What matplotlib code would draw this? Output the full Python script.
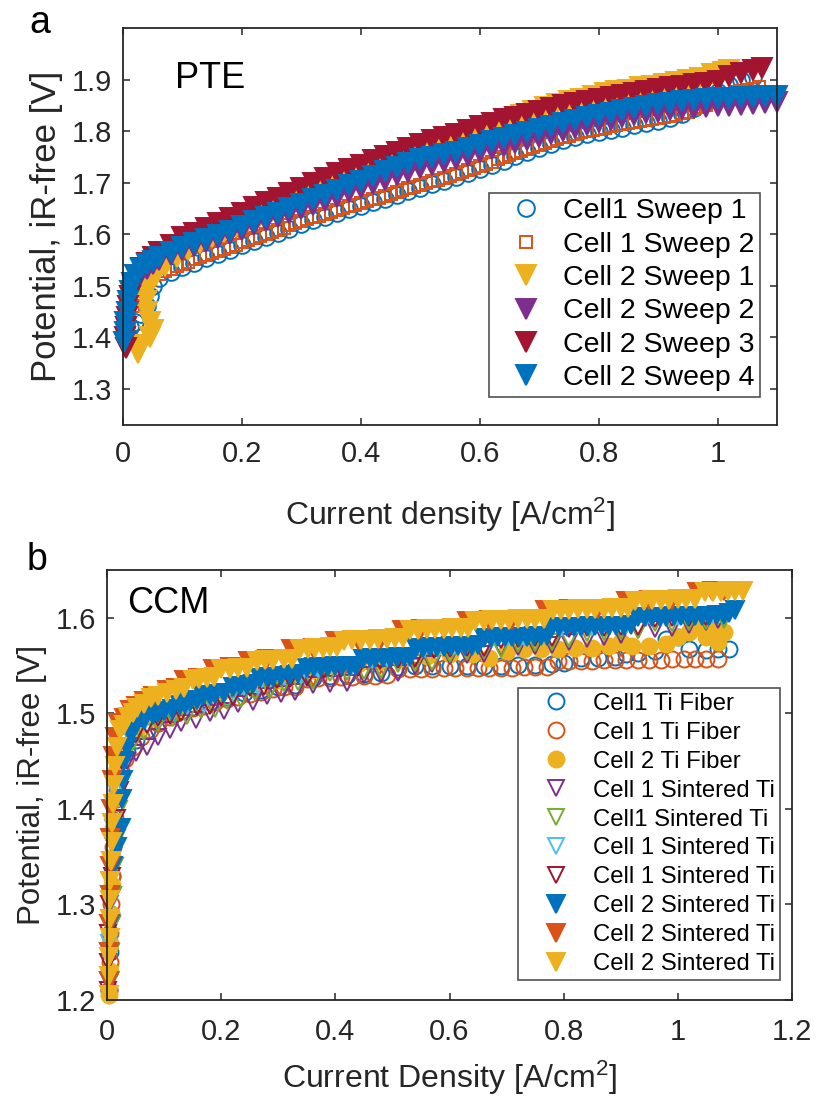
import numpy as np
import matplotlib
matplotlib.use("Agg")
import matplotlib.pyplot as plt
from matplotlib.ticker import FormatStrFormatter

plt.rcParams['font.family'] = ['Liberation Sans', 'DejaVu Sans']
plt.rcParams['mathtext.fontset'] = 'custom'
plt.rcParams['mathtext.rm'] = 'Liberation Sans'
plt.rcParams['mathtext.it'] = 'Liberation Sans'

# ---------------- panel a (PTE): (current density A/cm2, potential V) ----------------
pte_labels = ["Cell1 Sweep 1", "Cell 1 Sweep 2", "Cell 2 Sweep 1",
              "Cell 2 Sweep 2", "Cell 2 Sweep 3", "Cell 2 Sweep 4"]

pte_c1s1 = [(0.008, 1.40), (0.012, 1.42), (0.02, 1.43), (0.03, 1.445), (0.04, 1.46), (0.045, 1.48),
            (0.05, 1.50), (0.06, 1.515), (0.08, 1.527), (0.10, 1.536), (0.12, 1.545), (0.14, 1.553),
            (0.16, 1.561), (0.18, 1.57), (0.20, 1.579), (0.22, 1.587), (0.24, 1.595), (0.26, 1.603),
            (0.28, 1.611), (0.30, 1.619), (0.32, 1.627), (0.34, 1.634), (0.36, 1.641), (0.38, 1.648),
            (0.40, 1.655), (0.42, 1.662), (0.44, 1.669), (0.46, 1.676), (0.48, 1.683), (0.50, 1.69),
            (0.52, 1.697), (0.54, 1.704), (0.56, 1.711), (0.58, 1.719), (0.60, 1.727), (0.62, 1.735),
            (0.64, 1.743), (0.66, 1.751), (0.68, 1.759), (0.70, 1.767), (0.72, 1.775), (0.74, 1.782),
            (0.76, 1.789), (0.78, 1.794), (0.80, 1.799), (0.82, 1.803), (0.84, 1.807), (0.86, 1.811),
            (0.88, 1.815), (0.90, 1.82), (0.92, 1.826), (0.94, 1.834), (0.96, 1.845), (0.98, 1.858),
            (1.00, 1.875), (1.02, 1.89), (1.04, 1.90), (1.06, 1.905)]

pte_c1s2 = [(0.006, 1.40), (0.01, 1.43), (0.016, 1.46), (0.025, 1.48), (0.035, 1.50), (0.045, 1.512),
            (0.06, 1.523), (0.07, 1.528), (0.08, 1.533), (0.09, 1.538), (0.10, 1.542), (0.11, 1.547),
            (0.12, 1.551), (0.13, 1.555), (0.14, 1.559), (0.15, 1.563), (0.16, 1.567), (0.17, 1.572),
            (0.18, 1.576), (0.19, 1.58), (0.20, 1.585), (0.21, 1.589), (0.22, 1.593), (0.23, 1.597),
            (0.24, 1.601), (0.25, 1.605), (0.26, 1.609), (0.27, 1.613), (0.28, 1.617), (0.29, 1.621),
            (0.30, 1.625), (0.31, 1.629), (0.32, 1.633), (0.33, 1.636), (0.34, 1.64), (0.35, 1.643),
            (0.36, 1.647), (0.37, 1.65), (0.38, 1.654), (0.39, 1.657), (0.40, 1.661), (0.41, 1.664),
            (0.42, 1.668), (0.43, 1.671), (0.44, 1.675), (0.45, 1.678), (0.46, 1.682), (0.47, 1.685),
            (0.48, 1.689), (0.49, 1.692), (0.50, 1.696), (0.51, 1.699), (0.52, 1.703), (0.53, 1.706),
            (0.54, 1.71), (0.55, 1.713), (0.56, 1.717), (0.57, 1.721), (0.58, 1.725), (0.59, 1.729),
            (0.60, 1.733), (0.61, 1.737), (0.62, 1.741), (0.63, 1.745), (0.64, 1.749), (0.65, 1.753),
            (0.66, 1.757), (0.67, 1.761), (0.68, 1.765), (0.69, 1.769), (0.70, 1.773), (0.71, 1.777),
            (0.72, 1.781), (0.73, 1.784), (0.74, 1.788), (0.75, 1.791), (0.76, 1.795), (0.77, 1.798),
            (0.78, 1.80), (0.79, 1.803), (0.80, 1.805), (0.81, 1.807), (0.82, 1.809), (0.83, 1.811),
            (0.84, 1.813), (0.85, 1.815), (0.86, 1.817), (0.87, 1.819), (0.88, 1.821), (0.89, 1.823),
            (0.90, 1.825), (0.91, 1.827), (0.92, 1.83), (0.93, 1.832), (0.94, 1.835), (0.95, 1.838),
            (0.96, 1.842), (0.97, 1.846), (0.98, 1.85), (0.99, 1.856), (1.00, 1.862), (1.01, 1.867),
            (1.02, 1.872), (1.03, 1.875), (1.04, 1.878), (1.05, 1.88), (1.06, 1.882), (1.07, 1.885)]

pte_c2s1 = [(0.025, 1.37), (0.03, 1.385), (0.045, 1.40), (0.05, 1.415), (0.045, 1.43), (0.04, 1.45),
            (0.038, 1.47), (0.04, 1.49), (0.045, 1.505), (0.055, 1.52), (0.07, 1.538), (0.09, 1.555),
            (0.11, 1.57), (0.13, 1.583), (0.15, 1.595), (0.17, 1.605), (0.19, 1.615), (0.21, 1.625),
            (0.23, 1.635), (0.25, 1.645), (0.27, 1.655), (0.29, 1.664), (0.31, 1.673), (0.33, 1.682),
            (0.35, 1.691), (0.37, 1.70), (0.39, 1.709), (0.41, 1.718), (0.43, 1.727), (0.45, 1.735),
            (0.47, 1.743), (0.49, 1.751), (0.51, 1.759), (0.53, 1.767), (0.55, 1.775), (0.57, 1.783),
            (0.59, 1.792), (0.61, 1.802), (0.63, 1.812), (0.65, 1.822), (0.67, 1.831), (0.69, 1.839),
            (0.71, 1.846), (0.73, 1.852), (0.75, 1.858), (0.77, 1.863), (0.79, 1.868), (0.81, 1.873),
            (0.83, 1.877), (0.85, 1.88), (0.87, 1.885), (0.89, 1.888), (0.91, 1.891), (0.93, 1.895),
            (0.95, 1.90), (0.97, 1.904), (0.99, 1.91), (1.01, 1.915), (1.02, 1.918)]

pte_c2s2 = [(0.003, 1.39), (0.005, 1.42), (0.008, 1.45), (0.012, 1.48), (0.018, 1.50), (0.028, 1.52),
            (0.04, 1.533), (0.05, 1.542), (0.06, 1.55), (0.08, 1.56), (0.10, 1.57), (0.12, 1.578),
            (0.14, 1.585), (0.16, 1.592), (0.18, 1.601), (0.20, 1.609), (0.22, 1.617), (0.24, 1.625),
            (0.26, 1.633), (0.28, 1.641), (0.30, 1.648), (0.32, 1.656), (0.34, 1.664), (0.36, 1.672),
            (0.38, 1.681), (0.40, 1.69), (0.42, 1.698), (0.44, 1.706), (0.46, 1.714), (0.48, 1.721),
            (0.50, 1.728), (0.52, 1.734), (0.54, 1.74), (0.56, 1.746), (0.58, 1.752), (0.60, 1.759),
            (0.62, 1.765), (0.64, 1.771), (0.66, 1.777), (0.68, 1.783), (0.70, 1.789), (0.72, 1.795),
            (0.74, 1.801), (0.76, 1.806), (0.78, 1.812), (0.80, 1.817), (0.82, 1.822), (0.84, 1.827),
            (0.86, 1.832), (0.88, 1.835), (0.90, 1.838), (0.92, 1.841), (0.94, 1.843), (0.96, 1.845),
            (0.98, 1.847), (1.00, 1.848), (1.02, 1.849), (1.04, 1.851), (1.06, 1.853), (1.08, 1.855),
            (1.10, 1.857)]

pte_c2s3 = [(0.005, 1.38), (0.004, 1.40), (0.005, 1.42), (0.007, 1.44), (0.009, 1.46), (0.012, 1.48),
            (0.016, 1.50), (0.022, 1.52), (0.03, 1.535), (0.04, 1.545), (0.05, 1.556), (0.06, 1.565),
            (0.08, 1.58), (0.10, 1.594), (0.12, 1.603), (0.14, 1.612), (0.16, 1.621), (0.18, 1.632),
            (0.20, 1.642), (0.22, 1.652), (0.24, 1.662), (0.26, 1.671), (0.28, 1.68), (0.30, 1.69),
            (0.32, 1.70), (0.34, 1.709), (0.36, 1.718), (0.38, 1.727), (0.40, 1.735), (0.42, 1.744),
            (0.44, 1.752), (0.46, 1.76), (0.48, 1.767), (0.50, 1.775), (0.52, 1.782), (0.54, 1.788),
            (0.56, 1.795), (0.58, 1.802), (0.60, 1.81), (0.62, 1.816), (0.64, 1.823), (0.66, 1.828),
            (0.68, 1.833), (0.70, 1.839), (0.72, 1.845), (0.74, 1.85), (0.76, 1.854), (0.78, 1.858),
            (0.80, 1.862), (0.82, 1.866), (0.84, 1.87), (0.86, 1.874), (0.88, 1.878), (0.90, 1.882),
            (0.92, 1.885), (0.94, 1.888), (0.96, 1.891), (0.98, 1.893), (1.00, 1.898), (1.02, 1.906),
            (1.04, 1.912), (1.06, 1.918), (1.075, 1.923)]

pte_c2s4 = [(0.002, 1.39), (0.003, 1.41), (0.004, 1.43), (0.006, 1.45), (0.008, 1.47), (0.011, 1.49),
            (0.015, 1.505), (0.02, 1.52), (0.03, 1.532), (0.04, 1.542), (0.05, 1.549), (0.06, 1.555),
            (0.08, 1.565), (0.10, 1.575), (0.12, 1.583), (0.14, 1.59), (0.16, 1.598), (0.18, 1.607),
            (0.20, 1.616), (0.22, 1.625), (0.24, 1.634), (0.26, 1.642), (0.28, 1.651), (0.30, 1.659),
            (0.32, 1.668), (0.34, 1.677), (0.36, 1.686), (0.38, 1.695), (0.40, 1.704), (0.42, 1.713),
            (0.44, 1.722), (0.46, 1.73), (0.48, 1.738), (0.50, 1.745), (0.52, 1.75), (0.54, 1.755),
            (0.56, 1.76), (0.58, 1.767), (0.60, 1.774), (0.62, 1.78), (0.64, 1.786), (0.66, 1.792),
            (0.68, 1.798), (0.70, 1.804), (0.72, 1.81), (0.74, 1.816), (0.76, 1.821), (0.78, 1.827),
            (0.80, 1.832), (0.82, 1.836), (0.84, 1.841), (0.86, 1.845), (0.88, 1.848), (0.90, 1.852),
            (0.92, 1.855), (0.94, 1.858), (0.96, 1.86), (0.98, 1.862), (1.00, 1.864), (1.02, 1.865),
            (1.04, 1.866), (1.06, 1.867), (1.08, 1.868), (1.10, 1.868)]

# ---------------- panel b (CCM) ----------------
ccm_labels = ["Cell1 Ti Fiber", "Cell 1 Ti Fiber", "Cell 2 Ti Fiber",
              "Cell 1 Sintered Ti", "Cell1 Sintered Ti", "Cell 1 Sintered Ti",
              "Cell 1 Sintered Ti", "Cell 2 Sintered Ti", "Cell 2 Sintered Ti",
              "Cell 2 Sintered Ti"]

ccm_fiber1 = [(0.004, 1.21), (0.005, 1.25), (0.007, 1.29), (0.009, 1.33), (0.012, 1.37), (0.016, 1.41),
              (0.022, 1.44), (0.035, 1.46), (0.05, 1.472), (0.07, 1.482), (0.09, 1.49), (0.12, 1.50),
              (0.15, 1.507), (0.18, 1.512), (0.21, 1.517), (0.24, 1.521), (0.27, 1.524), (0.30, 1.527),
              (0.33, 1.53), (0.36, 1.537), (0.39, 1.539), (0.42, 1.54), (0.45, 1.541), (0.48, 1.542),
              (0.51, 1.548), (0.54, 1.549), (0.57, 1.549), (0.60, 1.549), (0.63, 1.55), (0.66, 1.55),
              (0.69, 1.55), (0.72, 1.551), (0.75, 1.551), (0.78, 1.552), (0.80, 1.553), (0.83, 1.558),
              (0.86, 1.558), (0.89, 1.559), (0.91, 1.562), (0.93, 1.563), (0.96, 1.565), (0.98, 1.578),
              (1.00, 1.58), (1.02, 1.567), (1.05, 1.566), (1.07, 1.567), (1.09, 1.567)]

ccm_fiber2 = [(0.004, 1.21), (0.005, 1.24), (0.006, 1.27), (0.007, 1.30), (0.009, 1.33), (0.011, 1.36),
              (0.014, 1.39), (0.018, 1.42), (0.024, 1.44), (0.032, 1.452), (0.045, 1.465), (0.06, 1.475),
              (0.075, 1.483), (0.09, 1.49), (0.11, 1.496), (0.13, 1.502), (0.15, 1.506), (0.17, 1.508),
              (0.19, 1.512), (0.21, 1.515), (0.23, 1.517), (0.25, 1.52), (0.27, 1.522), (0.29, 1.525),
              (0.31, 1.527), (0.33, 1.528), (0.35, 1.536), (0.37, 1.537), (0.39, 1.537), (0.41, 1.538),
              (0.43, 1.538), (0.45, 1.539), (0.47, 1.539), (0.49, 1.54), (0.51, 1.546), (0.53, 1.546),
              (0.55, 1.546), (0.57, 1.546), (0.59, 1.547), (0.61, 1.547), (0.63, 1.547), (0.65, 1.547),
              (0.67, 1.547), (0.69, 1.547), (0.71, 1.547), (0.73, 1.548), (0.75, 1.548), (0.77, 1.548),
              (0.79, 1.555), (0.81, 1.555), (0.83, 1.555), (0.85, 1.555), (0.87, 1.556), (0.89, 1.556),
              (0.91, 1.556), (0.93, 1.556), (0.95, 1.556), (0.97, 1.556), (0.99, 1.557), (1.01, 1.557),
              (1.03, 1.557), (1.05, 1.557), (1.07, 1.557)]

ccm_fiber3 = [(0.004, 1.205), (0.005, 1.23), (0.006, 1.26), (0.007, 1.29), (0.008, 1.32), (0.009, 1.35),
              (0.011, 1.38), (0.013, 1.41), (0.015, 1.44), (0.03, 1.46), (0.05, 1.48), (0.08, 1.495),
              (0.12, 1.505), (0.16, 1.515), (0.20, 1.522), (0.25, 1.53), (0.30, 1.535), (0.33, 1.54),
              (0.36, 1.545), (0.40, 1.548), (0.44, 1.552), (0.48, 1.555), (0.52, 1.558), (0.56, 1.56),
              (0.60, 1.562), (0.64, 1.562), (0.67, 1.558), (0.70, 1.565), (0.73, 1.567), (0.76, 1.567),
              (0.79, 1.567), (0.82, 1.568), (0.85, 1.568), (0.88, 1.57), (0.90, 1.575), (0.92, 1.57),
              (0.95, 1.57), (0.98, 1.572), (1.00, 1.58), (1.02, 1.585), (1.04, 1.59), (1.06, 1.588),
              (1.08, 1.585), (1.07, 1.575), (1.05, 1.58)]

ccm_sint_purple = [(0.005, 1.22), (0.006, 1.25), (0.008, 1.28), (0.01, 1.31), (0.013, 1.34), (0.016, 1.37),
                   (0.02, 1.40), (0.025, 1.43), (0.035, 1.45), (0.05, 1.458), (0.07, 1.465), (0.09, 1.475),
                   (0.11, 1.483), (0.13, 1.49), (0.155, 1.493), (0.18, 1.50), (0.205, 1.502), (0.23, 1.51),
                   (0.255, 1.512), (0.28, 1.518), (0.305, 1.52), (0.33, 1.522), (0.36, 1.53), (0.39, 1.531),
                   (0.42, 1.532), (0.45, 1.54), (0.48, 1.541), (0.51, 1.542), (0.54, 1.55), (0.57, 1.552),
                   (0.60, 1.56), (0.63, 1.561), (0.66, 1.562), (0.69, 1.568), (0.72, 1.569), (0.75, 1.57),
                   (0.78, 1.571), (0.81, 1.575), (0.84, 1.578), (0.87, 1.58), (0.90, 1.582), (0.93, 1.587),
                   (0.96, 1.588), (0.99, 1.589), (1.02, 1.592), (1.05, 1.596), (1.07, 1.598)]

ccm_sint_green = [(0.006, 1.22), (0.007, 1.25), (0.009, 1.28), (0.011, 1.31), (0.014, 1.34), (0.017, 1.37),
                  (0.021, 1.40), (0.025, 1.43), (0.032, 1.455), (0.045, 1.47), (0.065, 1.48), (0.09, 1.49),
                  (0.115, 1.495), (0.14, 1.497), (0.165, 1.503), (0.19, 1.505), (0.21, 1.513), (0.235, 1.515),
                  (0.26, 1.522), (0.285, 1.524), (0.31, 1.532), (0.335, 1.533), (0.36, 1.534), (0.39, 1.542),
                  (0.42, 1.543), (0.45, 1.544), (0.48, 1.545), (0.51, 1.552), (0.54, 1.553), (0.57, 1.554),
                  (0.60, 1.562), (0.63, 1.564), (0.66, 1.566), (0.69, 1.567), (0.72, 1.572), (0.75, 1.574),
                  (0.78, 1.575), (0.81, 1.578), (0.84, 1.584), (0.87, 1.585), (0.90, 1.586), (0.93, 1.587),
                  (0.96, 1.594), (0.99, 1.595), (1.02, 1.596), (1.05, 1.597), (1.08, 1.598)]

ccm_sint_cyan = [(0.003, 1.22), (0.004, 1.26), (0.005, 1.30), (0.007, 1.34), (0.01, 1.38), (0.014, 1.42),
                 (0.02, 1.45), (0.03, 1.47), (0.045, 1.48), (0.065, 1.49), (0.09, 1.497), (0.115, 1.50),
                 (0.14, 1.508), (0.17, 1.51), (0.19, 1.517), (0.22, 1.52), (0.24, 1.527), (0.265, 1.529),
                 (0.285, 1.536), (0.31, 1.538), (0.34, 1.54), (0.37, 1.546), (0.40, 1.548), (0.43, 1.55),
                 (0.465, 1.556), (0.49, 1.558), (0.52, 1.56), (0.555, 1.567), (0.58, 1.568), (0.61, 1.57),
                 (0.64, 1.571), (0.675, 1.578), (0.70, 1.579), (0.73, 1.58), (0.76, 1.581), (0.795, 1.589),
                 (0.82, 1.59), (0.85, 1.59), (0.88, 1.591), (0.91, 1.592), (0.945, 1.60), (0.97, 1.601),
                 (1.00, 1.601), (1.03, 1.602), (1.06, 1.603)]

ccm_sint_red = [(0.001, 1.21), (0.001, 1.24), (0.002, 1.27), (0.004, 1.30), (0.008, 1.33), (0.013, 1.36),
                (0.018, 1.39), (0.022, 1.42), (0.027, 1.45), (0.035, 1.465), (0.05, 1.478), (0.07, 1.488),
                (0.09, 1.495), (0.11, 1.497), (0.13, 1.50), (0.158, 1.507), (0.18, 1.508), (0.199, 1.516),
                (0.22, 1.517), (0.251, 1.526), (0.275, 1.527), (0.298, 1.535), (0.32, 1.536), (0.35, 1.537),
                (0.38, 1.545), (0.41, 1.546), (0.44, 1.547), (0.479, 1.555), (0.51, 1.556), (0.54, 1.557),
                (0.572, 1.566), (0.60, 1.567), (0.63, 1.568), (0.66, 1.568), (0.69, 1.577), (0.72, 1.578),
                (0.75, 1.579), (0.78, 1.579), (0.81, 1.588), (0.84, 1.589), (0.87, 1.589), (0.90, 1.59),
                (0.93, 1.59), (0.96, 1.599), (0.99, 1.60), (1.02, 1.60), (1.05, 1.601)]

ccm_sint2_blue = [(0.004, 1.22), (0.004, 1.25), (0.005, 1.28), (0.006, 1.31), (0.01, 1.34), (0.018, 1.36),
                  (0.025, 1.38), (0.027, 1.41), (0.028, 1.43), (0.03, 1.45), (0.035, 1.465), (0.042, 1.478),
                  (0.05, 1.488), (0.065, 1.493), (0.08, 1.498), (0.09, 1.50), (0.10, 1.502), (0.114, 1.505),
                  (0.128, 1.509), (0.136, 1.51), (0.145, 1.512), (0.157, 1.514), (0.169, 1.518), (0.18, 1.519),
                  (0.19, 1.52), (0.205, 1.521), (0.221, 1.528), (0.233, 1.529), (0.245, 1.53), (0.256, 1.531),
                  (0.268, 1.537), (0.28, 1.538), (0.29, 1.538), (0.305, 1.539), (0.32, 1.54), (0.335, 1.541),
                  (0.35, 1.547), (0.362, 1.548), (0.375, 1.548), (0.387, 1.548), (0.40, 1.549), (0.412, 1.549),
                  (0.425, 1.55), (0.437, 1.55), (0.449, 1.557), (0.46, 1.558), (0.47, 1.558), (0.483, 1.558),
                  (0.495, 1.558), (0.508, 1.559), (0.52, 1.559), (0.531, 1.559), (0.542, 1.568), (0.553, 1.568),
                  (0.565, 1.569), (0.578, 1.569), (0.59, 1.569), (0.602, 1.57), (0.615, 1.57), (0.628, 1.57),
                  (0.64, 1.57), (0.65, 1.571), (0.66, 1.579), (0.672, 1.579), (0.685, 1.58), (0.698, 1.58),
                  (0.71, 1.58), (0.722, 1.58), (0.735, 1.58), (0.748, 1.581), (0.76, 1.581), (0.77, 1.581),
                  (0.78, 1.59), (0.792, 1.59), (0.805, 1.59), (0.818, 1.59), (0.83, 1.59), (0.842, 1.591),
                  (0.855, 1.591), (0.868, 1.591), (0.88, 1.591), (0.892, 1.591), (0.905, 1.591), (0.918, 1.592),
                  (0.93, 1.601), (0.942, 1.601), (0.955, 1.601), (0.968, 1.601), (0.98, 1.601), (0.993, 1.602),
                  (1.005, 1.602), (1.018, 1.602), (1.03, 1.602), (1.042, 1.602), (1.055, 1.602), (1.068, 1.603),
                  (1.08, 1.603), (1.09, 1.605), (1.10, 1.608)]

ccm_sint2_orange = [(0.003, 1.22), (0.004, 1.25), (0.004, 1.28), (0.005, 1.31), (0.005, 1.34), (0.006, 1.37),
                    (0.007, 1.40), (0.008, 1.43), (0.01, 1.455), (0.014, 1.475), (0.02, 1.49), (0.03, 1.495),
                    (0.04, 1.503), (0.05, 1.508), (0.065, 1.513), (0.08, 1.518), (0.105, 1.524), (0.12, 1.526),
                    (0.134, 1.535), (0.16, 1.537), (0.186, 1.546), (0.215, 1.548), (0.247, 1.555), (0.28, 1.557),
                    (0.323, 1.567), (0.36, 1.568), (0.40, 1.576), (0.44, 1.577), (0.48, 1.578), (0.516, 1.587),
                    (0.55, 1.588), (0.59, 1.588), (0.63, 1.597), (0.67, 1.598), (0.71, 1.598), (0.767, 1.608),
                    (0.81, 1.609), (0.86, 1.609), (0.91, 1.618), (0.95, 1.619), (0.99, 1.619), (1.033, 1.627),
                    (1.06, 1.628), (1.08, 1.628)]

ccm_sint2_yellow = [(0.003, 1.205), (0.004, 1.225), (0.004, 1.245), (0.005, 1.265), (0.005, 1.285),
                    (0.006, 1.305), (0.006, 1.325), (0.007, 1.345), (0.008, 1.365), (0.009, 1.385),
                    (0.01, 1.405), (0.012, 1.425), (0.014, 1.445), (0.018, 1.465), (0.023, 1.482),
                    (0.03, 1.488), (0.037, 1.496), (0.045, 1.50), (0.052, 1.506), (0.065, 1.51),
                    (0.077, 1.516), (0.09, 1.518), (0.105, 1.521), (0.12, 1.524), (0.135, 1.526),
                    (0.15, 1.535), (0.162, 1.536), (0.175, 1.537), (0.187, 1.538), (0.20, 1.546),
                    (0.215, 1.546), (0.23, 1.547), (0.245, 1.547), (0.262, 1.555), (0.276, 1.556),
                    (0.29, 1.556), (0.31, 1.557), (0.324, 1.557), (0.338, 1.567), (0.352, 1.567),
                    (0.365, 1.568), (0.378, 1.568), (0.39, 1.569), (0.403, 1.569), (0.415, 1.576),
                    (0.43, 1.577), (0.445, 1.577), (0.46, 1.577), (0.475, 1.578), (0.49, 1.578),
                    (0.505, 1.579), (0.518, 1.579), (0.53, 1.587), (0.545, 1.587), (0.56, 1.588),
                    (0.575, 1.588), (0.59, 1.588), (0.605, 1.589), (0.62, 1.589), (0.633, 1.589),
                    (0.645, 1.597), (0.66, 1.597), (0.675, 1.598), (0.69, 1.598), (0.705, 1.598),
                    (0.72, 1.599), (0.735, 1.599), (0.75, 1.599), (0.765, 1.599), (0.782, 1.608),
                    (0.796, 1.608), (0.81, 1.608), (0.825, 1.609), (0.84, 1.609), (0.855, 1.609),
                    (0.87, 1.609), (0.885, 1.61), (0.90, 1.61), (0.912, 1.61), (0.925, 1.618),
                    (0.94, 1.618), (0.955, 1.619), (0.97, 1.619), (0.985, 1.619), (1.00, 1.62),
                    (1.015, 1.62), (1.03, 1.62), (1.048, 1.627), (1.062, 1.627), (1.075, 1.627),
                    (1.088, 1.628), (1.10, 1.628), (1.114, 1.628)]

# MATLAB default colour order
blue, orange, yellow = '#0072BD', '#D95319', '#EDB120'
purple, green, cyan, dred = '#7E2F8E', '#77AC30', '#4DBEEE', '#A2142F'


def draw(ax, pts, marker, color, filled, ms, label):
    x, y = np.array(pts).T
    ax.plot(x, y, linestyle='none', marker=marker, ms=ms,
            mfc=color if filled else 'none', mec=color, mew=1.4,
            label=label, clip_on=False)


def style(ax, xpad):
    for s in ax.spines.values():
        s.set_linewidth(1.3)
        s.set_color('#262626')
    ax.tick_params(direction='in', top=True, right=True, length=5, width=1.1,
                   labelsize=21, pad=8, colors='#262626', labelcolor='#262626')
    ax.tick_params(axis='x', pad=xpad)
    ax.xaxis.set_major_formatter(FormatStrFormatter('%g'))
    ax.yaxis.set_major_formatter(FormatStrFormatter('%g'))


fig = plt.figure(figsize=(8.17, 10.99), dpi=100)

# ---- panel a ----
ax = fig.add_axes([0.1506, 0.6133, 0.8004, 0.3612])
series_a = [(pte_c1s1, 'o', blue, False, 12), (pte_c1s2, 's', orange, False, 9),
            (pte_c2s1, 'v', yellow, True, 14.5), (pte_c2s2, 'v', purple, True, 14.5),
            (pte_c2s3, 'v', dred, True, 14.5), (pte_c2s4, 'v', blue, True, 14.5)]
for (pts, mk, col, fill, ms), lab in zip(series_a, pte_labels):
    draw(ax, pts, mk, col, fill, ms, lab)
ax.set_xlim(0, 1.1)
ax.set_ylim(1.23, 2.0)
ax.set_xticks([0, 0.2, 0.4, 0.6, 0.8, 1.0])
ax.set_yticks([1.3, 1.4, 1.5, 1.6, 1.7, 1.8, 1.9])
style(ax, 11)
ax.set_xlabel(r'Current density [A/cm$^2$]', fontsize=23, labelpad=20, color='#262626')
ax.set_ylabel('Potential, iR-free [V]', fontsize=25, labelpad=6, color='#262626')
ax.text(0.08, 0.874, 'PTE', transform=ax.transAxes, fontsize=26, va='center')
leg = ax.legend(loc='lower right', bbox_to_anchor=(0.974, 0.0705), borderaxespad=0,
                fontsize=20.5, frameon=True, fancybox=False, edgecolor='#262626',
                handlelength=2.2, handletextpad=0.2, labelspacing=0.26, borderpad=0.2)
leg.get_frame().set_linewidth(1.2)

# ---- panel b ----
bx = fig.add_axes([0.131, 0.0901, 0.8384, 0.3913])
series_b = [(ccm_fiber1, 'o', blue, False, 11.5), (ccm_fiber2, 'o', orange, False, 11.5),
            (ccm_fiber3, 'o', yellow, True, 11.5), (ccm_sint_purple, 'v', purple, False, 12),
            (ccm_sint_green, 'v', green, False, 12), (ccm_sint_cyan, 'v', cyan, False, 12),
            (ccm_sint_red, 'v', dred, False, 12), (ccm_sint2_blue, 'v', blue, True, 13),
            (ccm_sint2_orange, 'v', orange, True, 13), (ccm_sint2_yellow, 'v', yellow, True, 13)]
for (pts, mk, col, fill, ms), lab in zip(series_b, ccm_labels):
    draw(bx, pts, mk, col, fill, ms, lab)
bx.set_xlim(0, 1.2)
bx.set_ylim(1.2, 1.65)
bx.set_xticks([0, 0.2, 0.4, 0.6, 0.8, 1.0, 1.2])
bx.set_yticks([1.2, 1.3, 1.4, 1.5, 1.6])
style(bx, 13)
bx.set_xlabel(r'Current Density [A/cm$^2$]', fontsize=23, labelpad=9, color='#262626')
bx.set_ylabel('Potential, iR-free [V]', fontsize=22.5, labelpad=6, color='#262626')
bx.text(0.03, 0.923, 'CCM', transform=bx.transAxes, fontsize=26, va='center')
leg = bx.legend(loc='lower right', bbox_to_anchor=(0.9825, 0.0465), borderaxespad=0,
                fontsize=17.2, frameon=True, fancybox=False, edgecolor='#262626',
                handlelength=2.8, handletextpad=0.16, labelspacing=0.29, borderpad=0.2)
leg.get_frame().set_linewidth(1.2)

fig.text(0.049, 0.979, 'a', fontsize=27, ha='center', va='center')
fig.text(0.045, 0.4905, 'b', fontsize=27, ha='center', va='center')

fig.savefig('out.png', dpi=100)
